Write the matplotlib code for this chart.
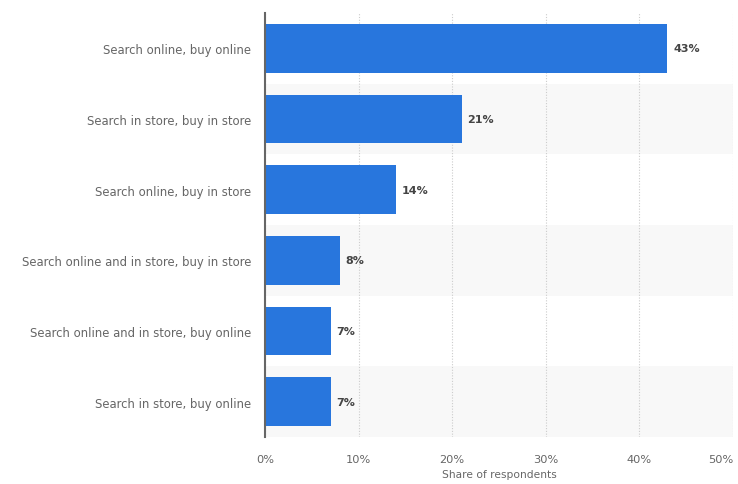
import matplotlib
matplotlib.use("Agg")
import matplotlib.pyplot as plt
from matplotlib.ticker import FuncFormatter

categories = [
    "Search online, buy online",
    "Search in store, buy in store",
    "Search online, buy in store",
    "Search online and in store, buy in store",
    "Search online and in store, buy online",
    "Search in store, buy online",
]
values = [43, 21, 14, 8, 7, 7]
xticks = [0, 10, 20, 30, 40, 50]

fig = plt.figure(figsize=(7.38, 4.85), dpi=100)
ax = fig.add_axes([265 / 738, 1 - 438 / 485, 468 / 738, 424 / 485])

y = list(range(len(categories)))
for i in y:
    if i % 2 == 1:
        ax.axhspan(i - 0.5, i + 0.5, color="#f8f8f8", zorder=0, lw=0)

ax.barh(y, values, height=0.69, color="#2876dd", zorder=3)
for yi, v in zip(y, values):
    ax.text(v + 0.6, yi, f"{v}%", va="center", ha="left", fontsize=8,
            fontweight="bold", color="#444444", zorder=4)

ax.set_ylim(len(categories) - 0.5, -0.5)
ax.set_xlim(0, 50)
ax.set_yticks(y)
ax.set_yticklabels(categories)
ax.set_xticks(xticks)
ax.xaxis.set_major_formatter(FuncFormatter(lambda v, p: f"{v:.0f}%"))
ax.tick_params(axis="y", length=0, pad=10, labelsize=8.35, labelcolor="#666666")
ax.tick_params(axis="x", length=0, pad=12, labelsize=8.2, labelcolor="#666666")
last = ax.xaxis.get_major_ticks()[-1].label1
last.set_horizontalalignment("right")

ax.grid(axis="x", color="#cccccc", linestyle=(0, (1, 1.5)), linewidth=0.8, zorder=1)
ax.set_axisbelow(True)
for s in ["top", "right", "bottom"]:
    ax.spines[s].set_visible(False)
ax.spines["left"].set_color("#666666")
ax.spines["left"].set_linewidth(1.5)
ax.spines["left"].set_zorder(5)

ax.set_xlabel("Share of respondents", fontsize=7.7, color="#666666", labelpad=4)

fig.savefig("out.png", dpi=100)
